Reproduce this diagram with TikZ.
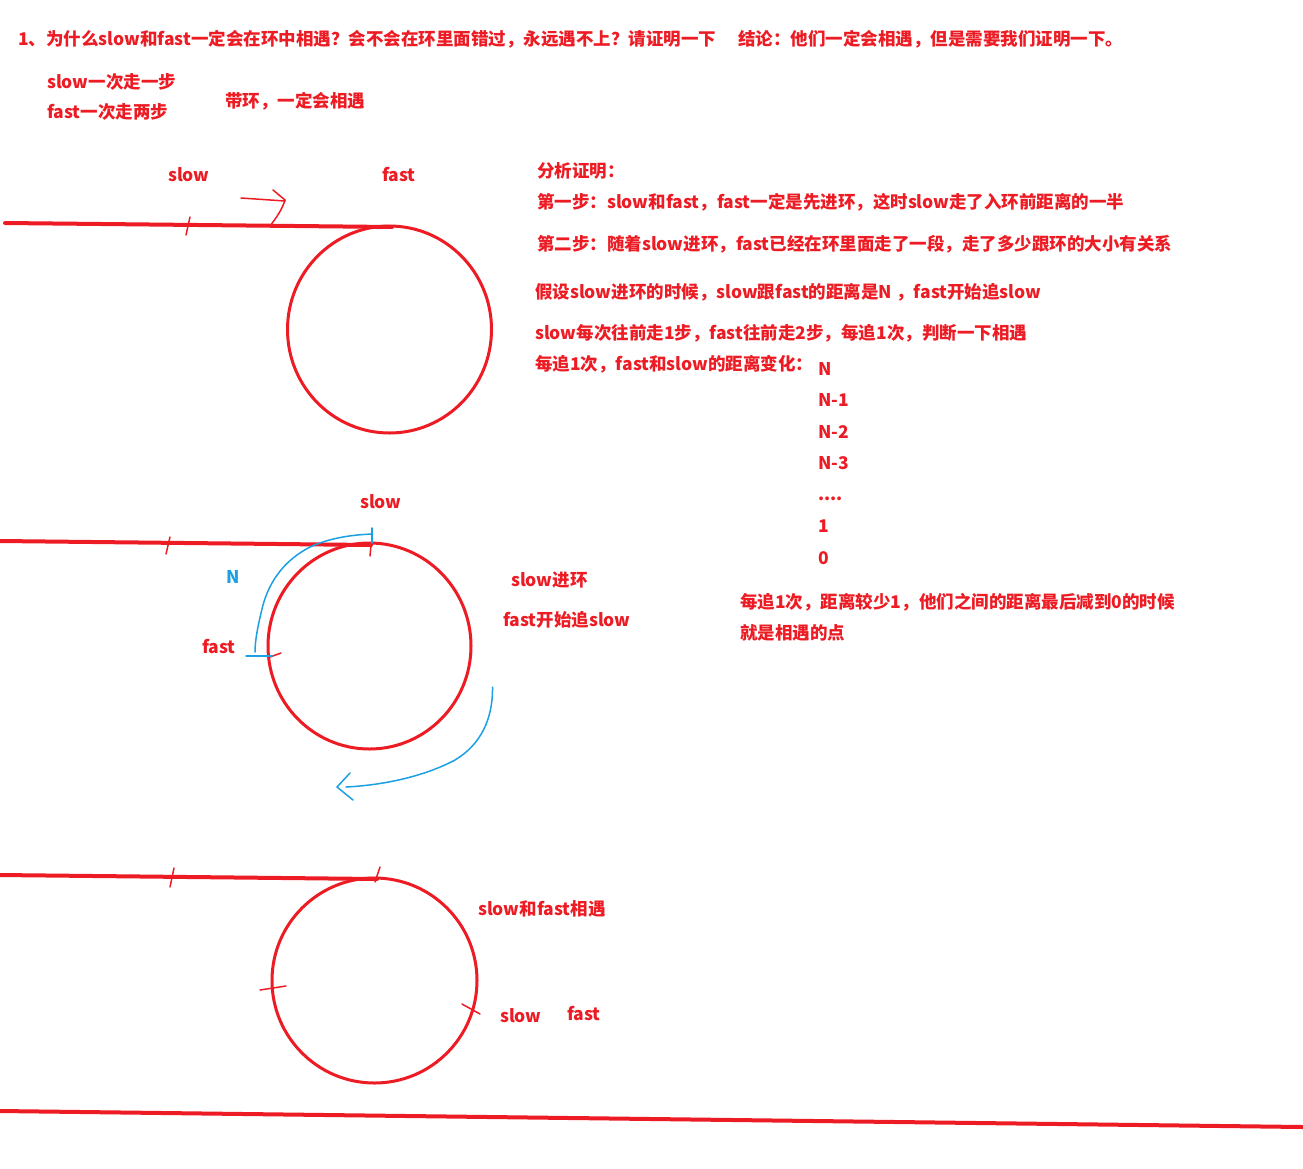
\documentclass[tikz,border=0pt]{standalone}
\usepackage{fontspec}
\setmainfont{Noto Sans CJK SC}
\definecolor{pred}{RGB}{237,28,36}
\definecolor{pblue}{RGB}{28,160,228}
\begin{document}
\begin{tikzpicture}[x=1pt,y=-1pt,
  txt/.style={anchor=base west, inner sep=0pt, text=pred, font=\bfseries\fontsize{17.5}{17.5}\selectfont},
  btxt/.style={txt, text=pblue},
  redline/.style={draw=pred, line width=4pt, line cap=round},
  ring/.style={draw=pred, line width=3pt},
  tickline/.style={draw=pred, line width=1.5pt, line cap=round},
  blueline/.style={draw=pblue, line width=1.5pt, line cap=round, line join=round}]
\useasboundingbox[fill=white] (0,0) rectangle (1303,1168);

% ---- header texts
\node[txt] (title) at (18,45) {1、为什么slow和fast一定会在环中相遇？会不会在环里面错过，永远遇不上？请证明一下};
\node[txt] (concl) at (738,45) {结论：他们一定会相遇，但是需要我们证明一下。};
\node[txt] (s1) at (47,88) {slow一次走一步};
\node[txt] (f2) at (47,118) {fast一次走两步};
\node[txt] (ring) at (225,107) {带环，一定会相遇};

% ---- right-hand analysis
\node[txt] (a0) at (537,177) {分析证明：};
\node[txt] (a1) at (537,208) {第一步：slow和fast，fast一定是先进环，这时slow走了入环前距离的一半};
\node[txt] (a2) at (537,250) {第二步：随着slow进环，fast已经在环里面走了一段，走了多少跟环的大小有关系};
\node[txt] (a3) at (535,298) {假设slow进环的时候，slow跟fast的距离是N ，fast开始追slow};
\node[txt] (a4) at (535,339) {slow每次往前走1步，fast往前走2步，每追1次，判断一下相遇};
\node[txt] (a5) at (535,370) {每追1次，fast和slow的距离变化：};
\node[txt] (n0) at (818,375) {N};
\node[txt] (n1) at (818,406) {N-1};
\node[txt] (n2) at (818,438) {N-2};
\node[txt] (n3) at (818,469) {N-3};
\node[txt] (nd) at (818,500) {....};
\node[txt] (n4) at (818,532) {1};
\node[txt] (n5) at (818,564) {0};
\node[txt] (c1) at (740,608) {每追1次，距离较少1，他们之间的距离最后减到0的时候};
\node[txt] (c2) at (740,639) {就是相遇的点};

% ---- diagram 1
\node[txt] (d1slow) at (168,181) {slow};
\node[txt] (d1fast) at (382,181) {fast};
\draw[redline] (5,223) -- (392,227);
\draw[ring] (389.5,329.5) ellipse [x radius=102, y radius=103.5];
\draw[tickline] (190,217) -- (186,235);
\draw[tickline] (241,198) -- (285,201);
\draw[tickline] (273,190) -- (285,200) .. controls (282,210) and (276,218) .. (270,226);

% ---- diagram 2
\node[txt] (d2slow) at (360,508) {slow};
\node[btxt] (d2N) at (226,583) {N};
\node[txt] (d2fast) at (202,653) {fast};
\node[txt] (d2in) at (511,586) {slow进环};
\node[txt] (d2chase) at (503,626) {fast开始追slow};
\draw[redline] (0,541) -- (371,545);
\draw[ring] (369.5,646) ellipse [x radius=101.5, y radius=103];
\draw[tickline] (170,537) -- (166,554);
\draw[tickline] (371,545) -- (370,556);
\draw[tickline] (270,657) -- (281,653);
\draw[blueline] (372,528) -- (372,543);
\draw[blueline] (372,534) .. controls (350,535) and (330,538) .. (310,547)
  .. controls (285,560) and (270,580) .. (263,605)
  .. controls (258,625) and (255,640) .. (255,652);
\draw[blueline] (246,656) -- (272,656);
\draw[blueline] (492.5,687) .. controls (493,720) and (480,745) .. (455,760)
  .. controls (425,776) and (385,785) .. (346,787);
\draw[blueline] (350,773) -- (337,787) -- (353,800);

% ---- diagram 3
\node[txt] (d3meet) at (478,915) {slow和fast相遇};
\node[txt] (d3slow) at (500,1022) {slow};
\node[txt] (d3fast) at (567,1020) {fast};
\draw[redline] (0,875) -- (377,879);
\draw[ring] (374.5,980.5) circle [radius=102.5];
\draw[tickline] (174,868) -- (170,887);
\draw[tickline] (380,867) -- (375,882);
\draw[tickline] (260,990) -- (286,986);
\draw[tickline] (462,1004) -- (480,1014);

% ---- bottom rule
\draw[redline] (0,1111) -- (1303,1127);
\end{tikzpicture}
\end{document}
